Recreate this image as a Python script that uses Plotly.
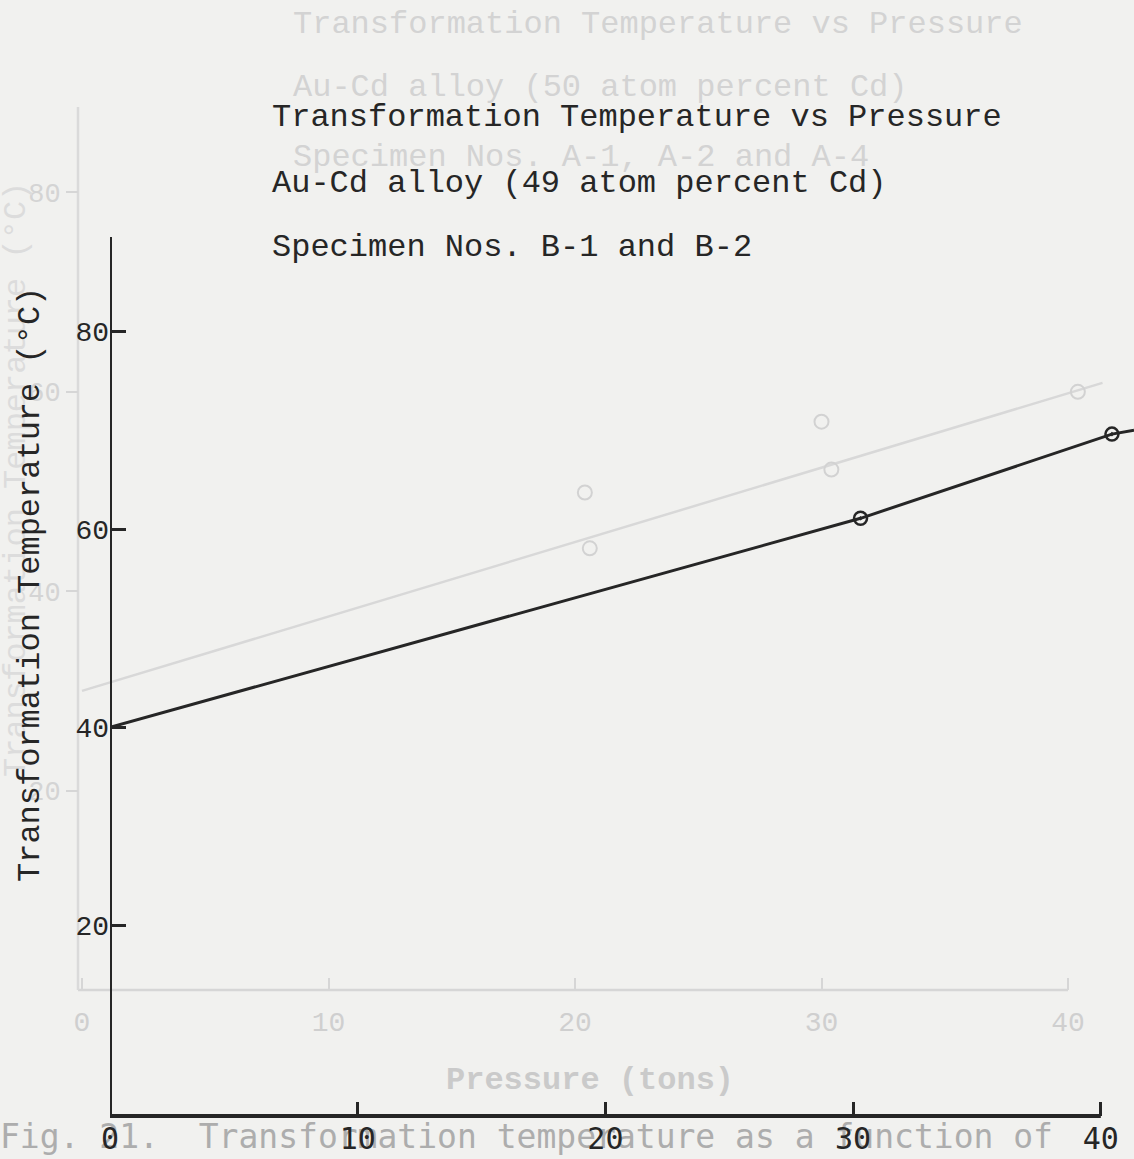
import plotly.graph_objects as go

W, H = 1134, 1159

# ---------------- data (main chart: Au-Cd 49 at.% Cd, specimens B-1, B-2) -------------
x_ticks = [0, 10, 20, 30, 40]
y_ticks = [20, 40, 60, 80]
line_pressure = [0, 30.3, 40.45, 41.34]
line_temp = [40.0, 61.1, 69.6, 70.0]
point_pressure = [30.3, 40.45]
point_temp = [61.1, 69.6]

# ---------------- faint show-through chart from the next page (50 at.% Cd) ------------
ghost_line_pressure = [0, 41.4]
ghost_line_temp = [30.0, 60.9]
ghost_point_pressure = [20.4, 20.6, 30.0, 30.4, 40.4]
ghost_point_temp = [49.9, 44.3, 57.0, 52.2, 60.0]

PAPER = "#f1f1ef"
INK = "#262626"
GHOST = "#d3d3d3"
MONO = "Liberation Mono"
SANSMONO = "DejaVu Sans Mono"

# ghost axis geometry (pixels)
gx0, gsx = 82.0, 24.65      # px of pressure 0, px per ton
gy0, gsy = 990.0, 9.97      # px of temperature 0, px per degree
def gx(px): return (px - gx0) / gsx
def gy(py): return (gy0 - py) / gsy

fig = go.Figure()

# ghost traces (primary axes x / y, drawn underneath)
fig.add_trace(go.Scatter(x=ghost_line_pressure, y=ghost_line_temp, mode="lines",
                         line=dict(color="#d8d8d8", width=2.5), xaxis="x", yaxis="y",
                         showlegend=False, hoverinfo="skip"))
fig.add_trace(go.Scatter(x=ghost_point_pressure, y=ghost_point_temp, mode="markers",
                         marker=dict(symbol="circle-open", size=14, color="#d2d2d2",
                                     line=dict(width=2, color="#d2d2d2")),
                         xaxis="x", yaxis="y", showlegend=False, hoverinfo="skip"))
fig.add_trace(go.Scatter(x=[gx(0)], y=[gy(1140)], mode="text",
                         text=["Fig. 21.\u00a0\u00a0Transformation temperature as a function of"],
                         textposition="middle right",
                         textfont=dict(family=SANSMONO, size=33, color="#adadad"),
                         xaxis="x", yaxis="y", showlegend=False, hoverinfo="skip",
                         cliponaxis=False))

# main traces (x2 / y2)
fig.add_trace(go.Scatter(x=line_pressure, y=line_temp, mode="lines",
                         line=dict(color=INK, width=3), xaxis="x2", yaxis="y2",
                         showlegend=False))
fig.add_trace(go.Scatter(x=point_pressure, y=point_temp, mode="markers",
                         marker=dict(symbol="circle-open-dot", size=13, color=INK,
                                     line=dict(width=2.5, color=INK)),
                         xaxis="x2", yaxis="y2", showlegend=False))

shapes = [
    # ghost axes
    dict(type="line", xref="x", yref="y", x0=gx(78), x1=40, y0=0, y1=0,
         line=dict(color="#d6d6d6", width=2.5), layer="below"),
    dict(type="line", xref="x", yref="y", x0=gx(78), x1=gx(78), y0=0, y1=gy(107),
         line=dict(color="#dadada", width=2.5), layer="below"),
    # main axes
    dict(type="line", xref="x2", yref="y2 domain", x0=0, x1=40, y0=0, y1=0,
         line=dict(color=INK, width=4)),
    dict(type="line", xref="x2", yref="y2 domain", x0=0, x1=0, y0=0, y1=1,
         line=dict(color=INK, width=4)),
]

def ann(text, xpx, ypx, color, anchor="left", angle=0, size=32):
    return dict(text=text, x=xpx / W, y=1 - ypx / H, xref="paper", yref="paper",
                xanchor=anchor, yanchor="middle", showarrow=False, textangle=angle,
                font=dict(family=MONO, size=size, color=color))

annotations = [
    # ghost texts
    ann("Transformation Temperature vs Pressure", 291, 25, GHOST),
    ann("Au-Cd alloy (50 atom percent Cd)", 291, 88, GHOST),
    ann("Specimen Nos. A-1, A-2 and A-4", 291, 157, GHOST),
    ann("<b>Pressure (tons)</b>", 590, 1080, "#cacaca", anchor="center"),
    ann("Transformation Temperature (°C)", 16, 480, "#dcdcdc", anchor="center", angle=-90),
    # main texts
    ann("Transformation Temperature vs Pressure", 270, 117, INK),
    ann("Au-Cd alloy (49 atom percent Cd)", 270, 183, INK),
    ann("Specimen Nos. B-1 and B-2", 270, 247, INK),
    ann("Transformation Temperature (°C)", 30, 585, INK, anchor="center", angle=-90),
]

axis_common = dict(showgrid=False, zeroline=False, showline=False, fixedrange=True,
                   automargin=False)

fig.update_layout(
    template="none",
    width=W, height=H, autosize=False,
    margin=dict(l=0, r=0, t=0, b=0, pad=0),
    paper_bgcolor=PAPER, plot_bgcolor="rgba(0,0,0,0)",
    showlegend=False,
    shapes=shapes, annotations=annotations,
    # ghost axes
    xaxis=dict(axis_common, domain=[0, 1], range=[gx(0), gx(W)], anchor="free",
               position=1 - gy0 / H, tickmode="array", tickvals=x_ticks,
               ticks="inside", ticklen=12, tickwidth=2, tickcolor="#d6d6d6",
               ticklabelstandoff=12,
               tickfont=dict(family=MONO, size=28, color="#cfcfcf")),
    yaxis=dict(axis_common, domain=[0, 1], range=[gy(H), gy(0)], anchor="free",
               position=78 / W, tickmode="array", tickvals=y_ticks,
               ticks="outside", ticklen=12, tickwidth=2, tickcolor="#d6d6d6",
               tickfont=dict(family=MONO, size=27, color="#d4d4d4")),
    # main axes
    xaxis2=dict(axis_common, domain=[110 / W, 1], range=[0, 41.34], anchor="y2",
                tickmode="array", tickvals=x_ticks, ticks="inside", ticklen=14,
                tickwidth=2.5, tickcolor=INK, ticklabelstandoff=2,
                tickfont=dict(family=SANSMONO, size=30, color=INK)),
    yaxis2=dict(axis_common, domain=[(H - 1116) / H, (H - 237) / H], range=[0.76, 89.5],
                anchor="x2", tickmode="array", tickvals=y_ticks, ticks="inside",
                ticklen=16, tickwidth=3, tickcolor=INK,
                tickfont=dict(family=MONO, size=28, color=INK)),
)

fig.write_html("out.html")
